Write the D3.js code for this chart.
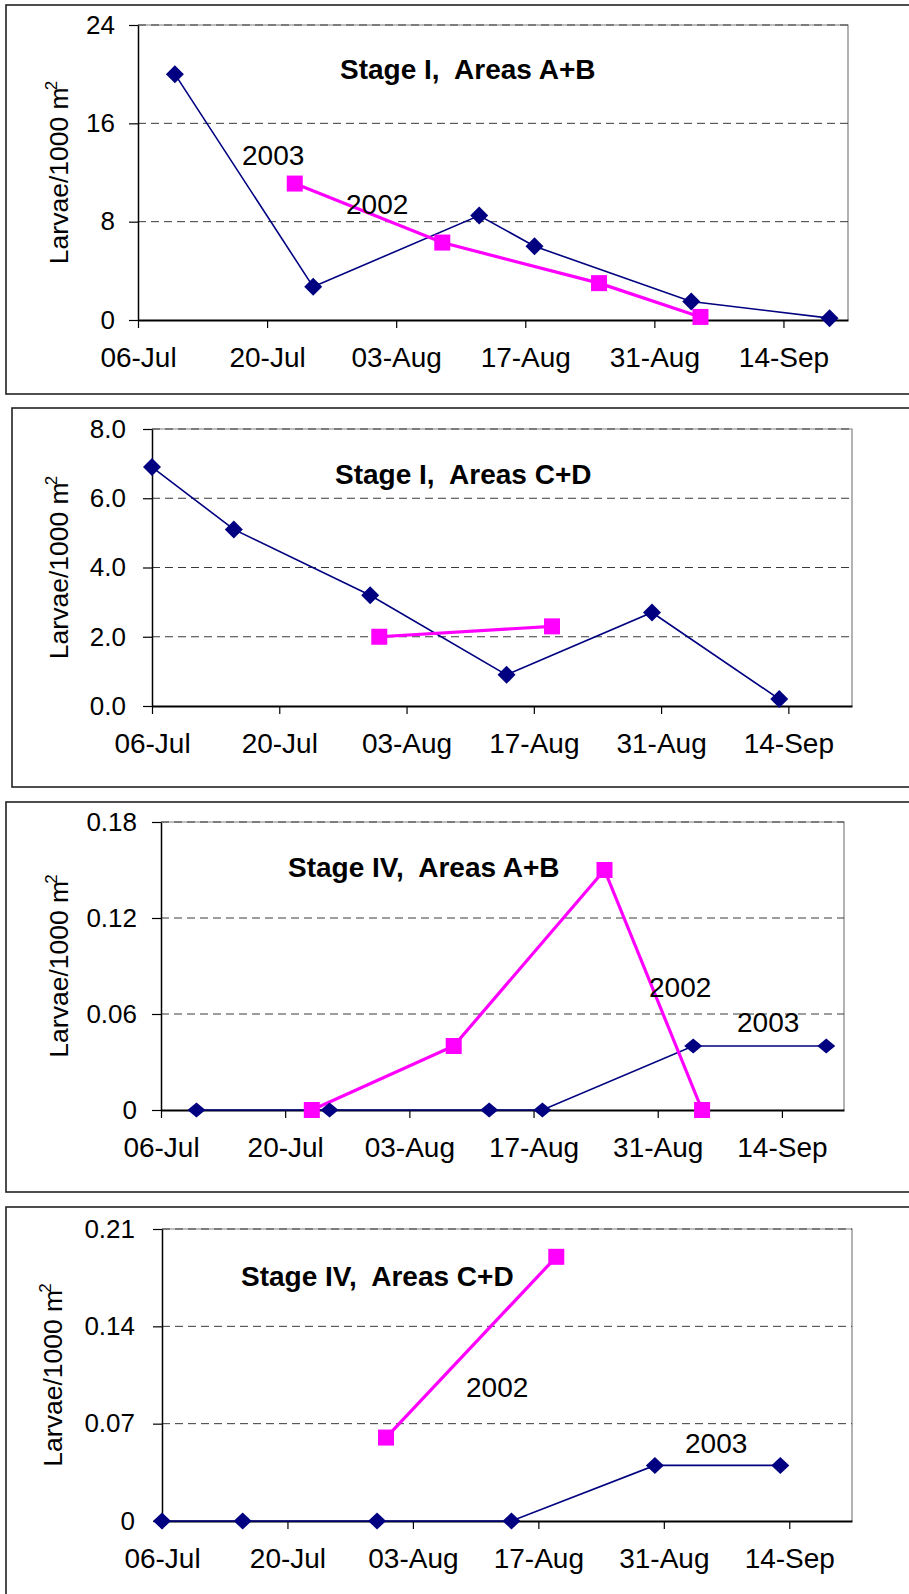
<!DOCTYPE html>
<html>
<head>
<meta charset="utf-8">
<script src="https://cdn.jsdelivr.net/npm/d3@7"></script>
<style>
  html, body { margin: 0; padding: 0; background: #fff; }
  svg { display: block; }
  text { font-family: "Liberation Sans", Arial, Helvetica, sans-serif; fill: #000; }
</style>
</head>
<body>
<svg id="chart" width="909" height="1594"></svg>
<script>
// ---- x axis: survey season, day-month ----
const dateTicks  = ["06-Jul", "20-Jul", "03-Aug", "17-Aug", "31-Aug", "14-Sep"];
const dateDomain = ["06-Jul", "21-Sep"];

// ---- sampling dates ----
const datesAB2003 = ["10-Jul", "25-Jul", "12-Aug", "18-Aug", "04-Sep", "19-Sep"];
const datesAB2002 = ["23-Jul", "08-Aug", "25-Aug", "05-Sep"];
const datesCD2003 = ["06-Jul", "15-Jul", "30-Jul", "14-Aug", "30-Aug", "13-Sep"];
const datesCD2002 = ["31-Jul", "19-Aug"];

// ---- larvae per 1000 m2 ----
const stageI_AB_2003  = [20.0, 2.7, 8.5, 6.0, 1.5, 0.15];
const stageI_AB_2002  = [11.1, 6.3, 3.0, 0.25];
const stageI_CD_2003  = [6.9, 5.1, 3.2, 0.9, 2.7, 0.2];
const stageI_CD_2002  = [2.0, 2.3];
const stageIV_AB_2003 = [0, 0, 0, 0, 0.04, 0.04];
const stageIV_AB_2002 = [0, 0.04, 0.15, 0];
const stageIV_CD_2003 = [0, 0, 0, 0, 0.04, 0.04];
const stageIV_CD_2002 = [0.06, 0.19];

// ---- y ticks and their labels ----
const yTicksI_AB  = [0, 8, 16, 24];
const yLabelsI_AB = ["0", "8", "16", "24"];
const yTicksI_CD  = [0, 2, 4, 6, 8];
const yLabelsI_CD = ["0.0", "2.0", "4.0", "6.0", "8.0"];
const yTicksIV_AB  = [0, 0.06, 0.12, 0.18];
const yLabelsIV_AB = ["0", "0.06", "0.12", "0.18"];
const yTicksIV_CD  = [0, 0.07, 0.14, 0.21];
const yLabelsIV_CD = ["0", "0.07", "0.14", "0.21"];

const titles = ["Stage I,  Areas A+B", "Stage I,  Areas C+D", "Stage IV,  Areas A+B", "Stage IV,  Areas C+D"];

const NAVY = "#000080", MAGENTA = "#ff00ff";
const parseDay = d3.timeParse("%d-%b");
const fmtDay = d3.timeFormat("%d-%b");

const zip = (dates, vals) => dates.map((d, i) => ({ date: parseDay(d), value: vals[i] }));

// panel layout: outer frame, plot area, text placement
const panels = [
  { title: titles[0], yTicks: yTicksI_AB, yLabels: yLabelsI_AB,
    s2003: zip(datesAB2003, stageI_AB_2003), s2002: zip(datesAB2002, stageI_AB_2002),
    frame: { x: 6, y: 5, b: 394 }, plot: { l: 138, r: 848, t: 25, b: 320 },
    titlePos: [202, 54], axisTitleX: 68, yGap: 14, markerH: 9,
    notes: [{ text: "2003", at: [104, 140] }, { text: "2002", at: [208, 189] }] },
  { title: titles[1], yTicks: yTicksI_CD, yLabels: yLabelsI_CD,
    s2003: zip(datesCD2003, stageI_CD_2003), s2002: zip(datesCD2002, stageI_CD_2002),
    frame: { x: 12, y: 408, b: 787 }, plot: { l: 152, r: 852, t: 429, b: 706 },
    titlePos: [183, 55], axisTitleX: 68, yGap: 17, markerH: 9,
    notes: [] },
  { title: titles[2], yTicks: yTicksIV_AB, yLabels: yLabelsIV_AB,
    s2003: zip(datesAB2003, stageIV_AB_2003), s2002: zip(datesAB2002, stageIV_AB_2002),
    frame: { x: 6, y: 802, b: 1192 }, plot: { l: 161, r: 844, t: 822, b: 1110 },
    titlePos: [127, 55], axisTitleX: 68, yGap: 15, markerH: 7.5,
    notes: [{ text: "2002", at: [488, 175] }, { text: "2003", at: [576, 210] }] },
  { title: titles[3], yTicks: yTicksIV_CD, yLabels: yLabelsIV_CD,
    s2003: zip(datesCD2003, stageIV_CD_2003), s2002: zip(datesCD2002, stageIV_CD_2002),
    frame: { x: 6, y: 1207, b: 1620 }, plot: { l: 162, r: 852, t: 1229, b: 1521 },
    titlePos: [79, 57], axisTitleX: 62, yGap: 18, markerH: 8.5,
    notes: [{ text: "2002", at: [304, 168] }, { text: "2003", at: [523, 224] }] }
];

const svg = d3.select("#chart");
svg.append("rect").attr("width", 909).attr("height", 1594).attr("fill", "#fff");

panels.forEach(p => {
  const g = svg.append("g");
  const P = p.plot;

  // outer chart frame (runs off the right edge of the page)
  g.append("rect")
    .attr("x", p.frame.x).attr("y", p.frame.y)
    .attr("width", 940 - p.frame.x).attr("height", p.frame.b - p.frame.y)
    .attr("fill", "#fff").attr("stroke", "#222").attr("stroke-width", 1.6);

  const x = d3.scaleTime().domain(dateDomain.map(parseDay)).range([P.l, P.r]);
  const y = d3.scaleLinear().domain([0, d3.max(p.yTicks)]).range([P.b, P.t]);

  // plot-area border (top and right)
  g.append("path")
    .attr("d", `M${P.l},${P.t}H${P.r}V${P.b}`)
    .attr("fill", "none").attr("stroke", "#808080").attr("stroke-width", 1.2);

  // dashed horizontal gridlines
  g.append("g").selectAll("line")
    .data(p.yTicks.filter(v => v > 0))
    .join("line")
      .attr("x1", P.l).attr("x2", P.r)
      .attr("y1", d => y(d)).attr("y2", d => y(d))
      .attr("stroke", "#3a3a3a").attr("stroke-width", 1)
      .attr("stroke-dasharray", "8,5");

  // y axis
  const yAxis = g.append("g")
    .attr("transform", `translate(${P.l},0)`)
    .call(d3.axisLeft(y).tickValues(p.yTicks)
      .tickFormat((d, i) => p.yLabels[i]).tickSize(9).tickSizeOuter(0).tickPadding(p.yGap));
  yAxis.select(".domain").attr("stroke", "#000").attr("stroke-width", 1.5);
  yAxis.selectAll(".tick line").attr("stroke", "#000").attr("stroke-width", 1.2);
  yAxis.selectAll(".tick text")
    .attr("font-size", 26).attr("font-family", "Liberation Sans, Arial, sans-serif").attr("fill", "#000");

  // x axis
  const xAxis = g.append("g")
    .attr("transform", `translate(0,${P.b})`)
    .call(d3.axisBottom(x).tickValues(dateTicks.map(parseDay))
      .tickFormat(fmtDay).tickSize(8).tickSizeOuter(0));
  xAxis.select(".domain").attr("stroke", "#000").attr("stroke-width", 2);
  xAxis.selectAll(".tick line").attr("stroke", "#000").attr("stroke-width", 1.2);
  xAxis.selectAll(".tick text")
    .attr("y", 47).attr("dy", 0)
    .attr("font-size", 28).attr("font-family", "Liberation Sans, Arial, sans-serif").attr("fill", "#000");

  // y axis title
  const at = g.append("text")
    .attr("transform", `translate(${p.axisTitleX},${(P.t + P.b) / 2}) rotate(-90)`)
    .attr("text-anchor", "middle")
    .attr("font-size", 26.5);
  at.append("tspan").text("Larvae/1000 m");
  at.append("tspan").text("2").attr("font-size", 17).attr("dy", -11).attr("dx", -3);

  // series lines
  const line = d3.line().x(d => x(d.date)).y(d => y(d.value));
  g.append("path").datum(p.s2003).attr("d", line)
    .attr("fill", "none").attr("stroke", NAVY).attr("stroke-width", 1.6);
  g.append("path").datum(p.s2002).attr("d", line)
    .attr("fill", "none").attr("stroke", MAGENTA).attr("stroke-width", 3.2);

  // 2002 markers: squares
  g.append("g").selectAll("rect")
    .data(p.s2002)
    .join("rect")
      .attr("x", d => x(d.date) - 8).attr("y", d => y(d.value) - 8)
      .attr("width", 16).attr("height", 16)
      .attr("fill", MAGENTA);

  // 2003 markers: diamonds
  const h = p.markerH;
  g.append("g").selectAll("path")
    .data(p.s2003)
    .join("path")
      .attr("transform", d => `translate(${x(d.date)},${y(d.value)})`)
      .attr("d", `M0,${-h}L9,0L0,${h}L-9,0Z`)
      .attr("fill", NAVY);

  // panel title
  g.append("text")
    .attr("x", P.l + p.titlePos[0]).attr("y", P.t + p.titlePos[1])
    .attr("font-size", 28).attr("font-weight", "bold")
    .style("white-space", "pre")
    .text(p.title);

  // year annotations
  g.selectAll("text.note")
    .data(p.notes)
    .join("text")
      .attr("class", "note")
      .attr("x", d => P.l + d.at[0]).attr("y", d => P.t + d.at[1])
      .attr("font-size", 28)
      .text(d => d.text);
});
</script>
</body>
</html>
